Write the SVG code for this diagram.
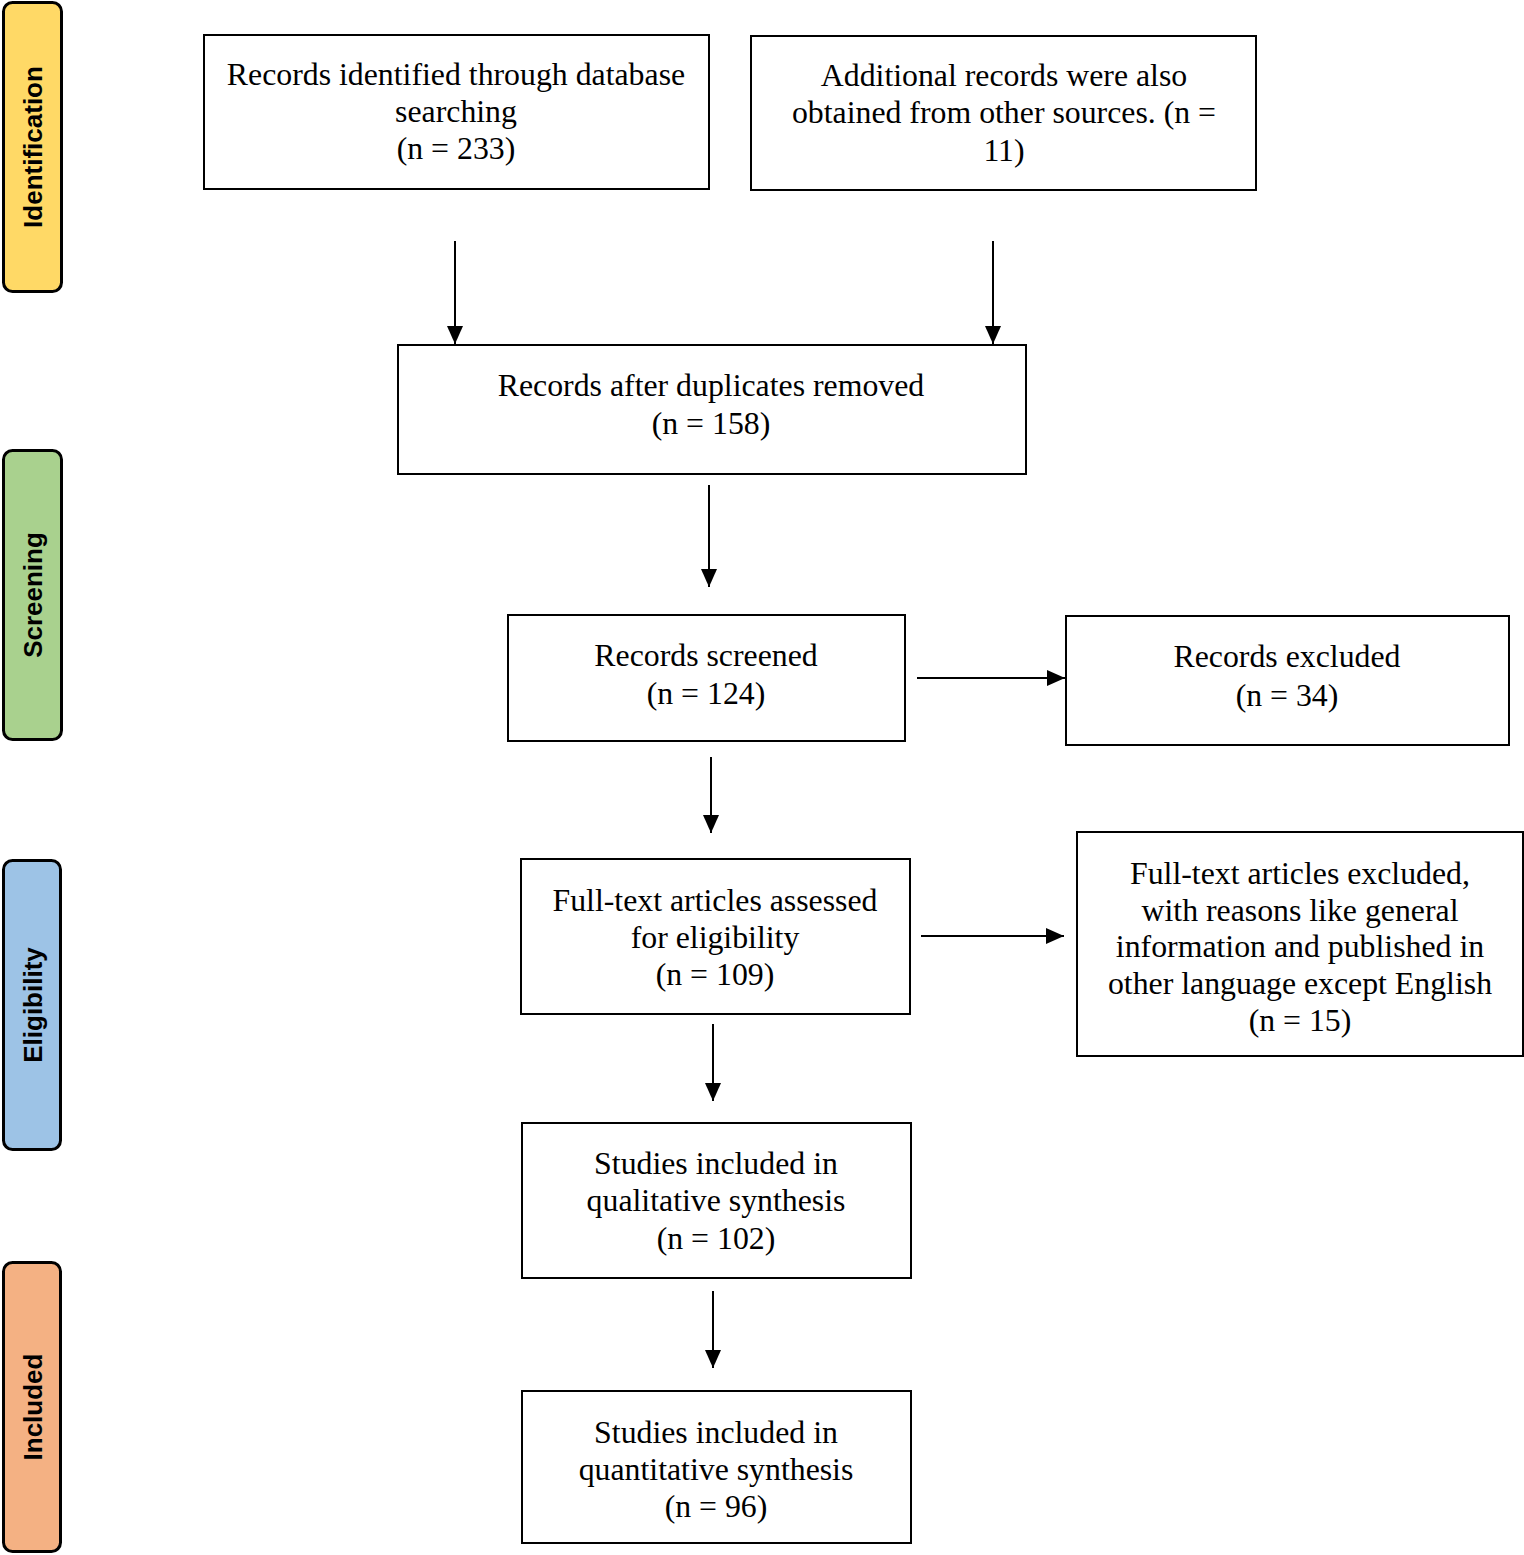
<svg xmlns="http://www.w3.org/2000/svg" width="1524" height="1555" viewBox="0 0 1524 1555">
<style>
.box{fill:#fff;stroke:#000;stroke-width:2}
.t{font-family:"Liberation Serif","Times New Roman",serif;font-size:31.8px;fill:#000;text-anchor:middle}
.phase{stroke:#000;stroke-width:3}
.pl{font-family:"Liberation Sans",Arial,sans-serif;font-weight:bold;font-size:26px;fill:#000;text-anchor:middle}
.c{stroke:#000;stroke-width:2;fill:none;marker-end:url(#ah)}
</style>
<defs>
<marker id="ah" markerWidth="9" markerHeight="8" refX="9" refY="4" orient="auto" markerUnits="strokeWidth">
<path d="M0,0 L9,4 L0,8 Z" fill="#000"/>
</marker>
</defs>
<rect width="1524" height="1555" fill="#fff"/>
<g id="phase-identification">
<rect class="phase" x="3.5" y="2.5" width="58" height="289" rx="9" fill="#FFD966"/>
<text class="pl" transform="translate(42,147) rotate(-90)">Identification</text>
</g>
<g id="phase-screening">
<rect class="phase" x="3.5" y="450.5" width="58" height="289" rx="9" fill="#A9D18E"/>
<text class="pl" transform="translate(42,595) rotate(-90)">Screening</text>
</g>
<g id="phase-eligibility">
<rect class="phase" x="3.5" y="860.5" width="57" height="289" rx="9" fill="#9DC3E6"/>
<text class="pl" transform="translate(42,1005) rotate(-90)">Eligibility</text>
</g>
<g id="phase-included">
<rect class="phase" x="3.5" y="1262.5" width="57" height="289" rx="9" fill="#F4B183"/>
<text class="pl" transform="translate(42,1407) rotate(-90)">Included</text>
</g>
<g id="n1">
<rect class="box" x="204" y="35" width="505" height="154"/>
<text class="t" x="456" y="85">Records identified through database</text>
<text class="t" x="456" y="122">searching</text>
<text class="t" x="456" y="159">(n = 233)</text>
</g>
<g id="n2">
<rect class="box" x="751" y="36" width="505" height="154"/>
<text class="t" x="1004" y="86">Additional records were also</text>
<text class="t" x="1004" y="123">obtained from other sources. (n =</text>
<text class="t" x="1004" y="161">11)</text>
</g>
<g id="n3">
<rect class="box" x="398" y="345" width="628" height="129"/>
<text class="t" x="711" y="396">Records after duplicates removed</text>
<text class="t" x="711" y="434">(n = 158)</text>
</g>
<g id="n4">
<rect class="box" x="508" y="615" width="397" height="126"/>
<text class="t" x="706" y="666">Records screened</text>
<text class="t" x="706" y="704">(n = 124)</text>
</g>
<g id="n5">
<rect class="box" x="1066" y="616" width="443" height="129"/>
<text class="t" x="1287" y="667">Records excluded</text>
<text class="t" x="1287" y="706">(n = 34)</text>
</g>
<g id="n6">
<rect class="box" x="521" y="859" width="389" height="155"/>
<text class="t" x="715" y="911">Full-text articles assessed</text>
<text class="t" x="715" y="948">for eligibility</text>
<text class="t" x="715" y="985">(n = 109)</text>
</g>
<g id="n7">
<rect class="box" x="1077" y="832" width="446" height="224"/>
<text class="t" x="1300" y="884">Full-text articles excluded,</text>
<text class="t" x="1300" y="921">with reasons like general</text>
<text class="t" x="1300" y="957">information and published in</text>
<text class="t" x="1300" y="994">other language except English</text>
<text class="t" x="1300" y="1031">(n = 15)</text>
</g>
<g id="n8">
<rect class="box" x="522" y="1123" width="389" height="155"/>
<text class="t" x="716" y="1174">Studies included in</text>
<text class="t" x="716" y="1211">qualitative synthesis</text>
<text class="t" x="716" y="1249">(n = 102)</text>
</g>
<g id="n9">
<rect class="box" x="522" y="1391" width="389" height="152"/>
<text class="t" x="716" y="1443">Studies included in</text>
<text class="t" x="716" y="1480">quantitative synthesis</text>
<text class="t" x="716" y="1517">(n = 96)</text>
</g>
<g id="connectors">
<line class="c" x1="455" y1="241" x2="455" y2="344"/>
<line class="c" x1="993" y1="241" x2="993" y2="344"/>
<line class="c" x1="709" y1="485" x2="709" y2="587"/>
<line class="c" x1="711" y1="757" x2="711" y2="833"/>
<line class="c" x1="713" y1="1024" x2="713" y2="1101"/>
<line class="c" x1="713" y1="1291" x2="713" y2="1368"/>
<line class="c" x1="917" y1="678" x2="1065" y2="678"/>
<line class="c" x1="921" y1="936" x2="1064" y2="936"/>
</g>
</svg>
